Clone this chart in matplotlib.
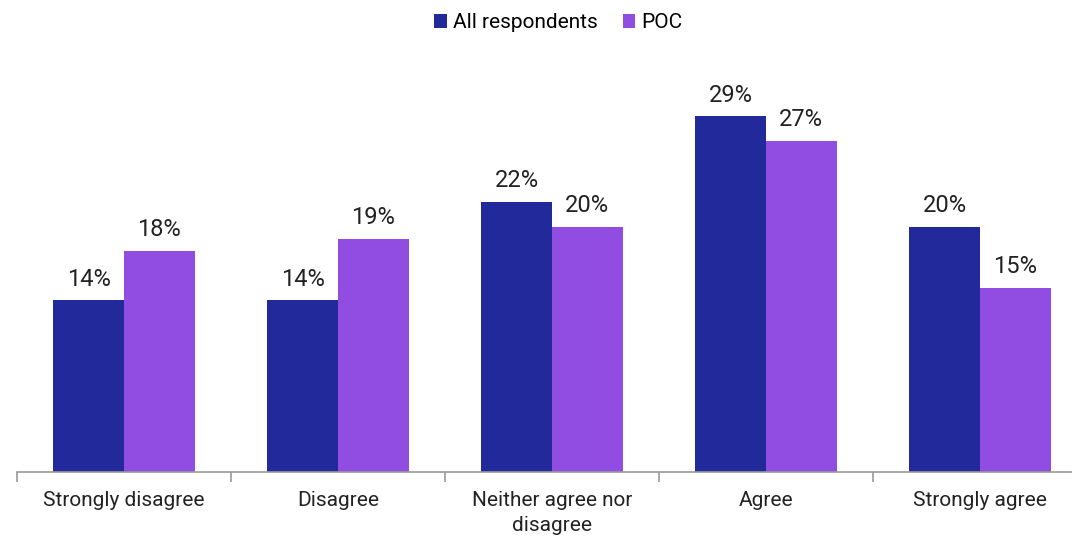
import matplotlib.pyplot as plt
import numpy as np

plt.rcParams['font.family'] = ['Roboto', 'DejaVu Sans']

categories = ['Strongly disagree', 'Disagree', 'Neither agree nor\ndisagree', 'Agree', 'Strongly agree']
all_resp = [14, 14, 22, 29, 20]
poc = [18, 19, 20, 27, 15]
series_names = ['All respondents', 'POC']

col_all = '#22299b'
col_poc = '#914ce1'

fig = plt.figure(figsize=(10.72, 5.37), dpi=100)
ax = fig.add_axes([17 / 1072, 65 / 537, 5 * 214 / 1072, 422 / 537])

x = np.arange(len(categories))
w = 0.33
b1 = ax.bar(x - w / 2, all_resp, w, color=col_all, label=series_names[0])
b2 = ax.bar(x + w / 2, poc, w, color=col_poc, label=series_names[1])

for bars, vals in ((b1, all_resp), (b2, poc)):
    for r, v in zip(bars, vals):
        ax.annotate(f'{v}%', (r.get_x() + r.get_width() / 2, v),
                    xytext=(0, 7), textcoords='offset points',
                    ha='center', va='bottom', fontsize=17, color='#222222')

ax.set_xlim(-0.5, len(categories) - 0.5)
ax.set_ylim(0, 34.4)
ax.set_yticks([])
for s in ('top', 'right', 'left'):
    ax.spines[s].set_visible(False)
ax.spines['bottom'].set_color('#999999')
ax.spines['bottom'].set_linewidth(1.2)

# category labels, tick marks at the boundaries
ax.set_xticks(x)
ax.set_xticklabels(categories, fontsize=15, color='#222222', linespacing=1.4)
ax.tick_params(axis='x', which='major', length=0, pad=14)
ax.set_xticks(np.arange(len(categories) + 1) - 0.5, minor=True)
ax.tick_params(axis='x', which='minor', length=7, color='#999999', width=1.2)

fig.legend(loc='upper center', bbox_to_anchor=(0.521, 1.01), ncol=2, frameon=False,
           fontsize=15, handlelength=0.6, handleheight=0.6, handletextpad=0.3,
           columnspacing=1.2)

fig.savefig('out.png', dpi=100)
